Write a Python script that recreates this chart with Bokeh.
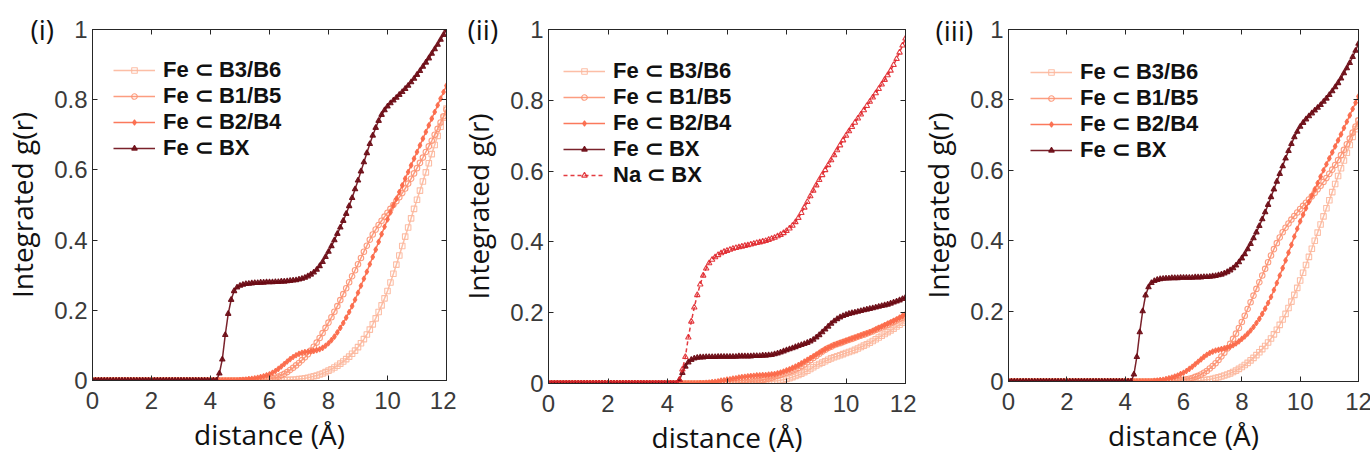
from bokeh.plotting import figure
from bokeh.layouts import row
from bokeh.models import (Range1d, FixedTicker, LinearAxis, CustomJSTickFormatter,
                          Legend, LegendItem, Title)
from bokeh.embed import file_html
from bokeh.resources import INLINE

# ---------------- data (integrated g(r), sampled every 0.1 Å from 0 to 12 Å) ----------------
distance = [round(0.1 * i, 1) for i in range(121)]
x_ticks = [0, 2, 4, 6, 8, 10, 12]
y_ticks = [0, 0.2, 0.4, 0.6, 0.8, 1]
panel_tags = ["(i)", "(ii)", "(iii)"]
series_names = ["Fe \u2282 B3/B6", "Fe \u2282 B1/B5", "Fe \u2282 B2/B4", "Fe \u2282 BX", "Na \u2282 BX"]

Z = [0] * 10

# panel (i)
b36_i = (Z * 6
         + [0, 0, 0, 0, 0, 0.001, 0.001, 0.002, 0.002, 0.003]
         + [0.004, 0.005, 0.006, 0.008, 0.01, 0.012, 0.014, 0.017, 0.02, 0.024]
         + [0.028, 0.032, 0.037, 0.042, 0.048, 0.054, 0.061, 0.068, 0.076, 0.085]
         + [0.095, 0.106, 0.118, 0.131, 0.145, 0.16, 0.177, 0.195, 0.214, 0.234]
         + [0.255, 0.279, 0.304, 0.33, 0.356, 0.383, 0.41, 0.436, 0.462, 0.489]
         + [0.515, 0.541, 0.567, 0.593, 0.619, 0.645, 0.671, 0.697, 0.723, 0.749]
         + [0.775])
b15_i = (Z * 5
         + [0, 0, 0, 0, 0, 0.001, 0.001, 0.002, 0.002, 0.003]
         + [0.004, 0.006, 0.008, 0.011, 0.015, 0.019, 0.024, 0.03, 0.036, 0.043]
         + [0.05, 0.058, 0.066, 0.075, 0.085, 0.096, 0.108, 0.121, 0.135, 0.15]
         + [0.165, 0.18, 0.196, 0.212, 0.229, 0.246, 0.263, 0.28, 0.297, 0.314]
         + [0.331, 0.349, 0.367, 0.384, 0.401, 0.416, 0.43, 0.443, 0.455, 0.467]
         + [0.478, 0.489, 0.5, 0.511, 0.522, 0.534, 0.547, 0.561, 0.575, 0.59]
         + [0.605, 0.62, 0.635, 0.651, 0.667, 0.683, 0.7, 0.717, 0.735, 0.753]
         + [0.772])
b24_i = (Z * 5
         + [0.001, 0.002, 0.003, 0.004, 0.005, 0.006, 0.008, 0.01, 0.012, 0.015]
         + [0.018, 0.022, 0.027, 0.033, 0.04, 0.047, 0.054, 0.061, 0.067, 0.072]
         + [0.076, 0.079, 0.081, 0.082, 0.083, 0.084, 0.086, 0.089, 0.093, 0.099]
         + [0.106, 0.115, 0.125, 0.137, 0.15, 0.164, 0.179, 0.195, 0.212, 0.23]
         + [0.25, 0.27, 0.29, 0.31, 0.331, 0.352, 0.373, 0.395, 0.417, 0.438]
         + [0.459, 0.479, 0.499, 0.518, 0.537, 0.556, 0.575, 0.594, 0.613, 0.632]
         + [0.651, 0.67, 0.689, 0.708, 0.727, 0.746, 0.765, 0.784, 0.803, 0.822]
         + [0.84])
bx_i = (Z * 4
        + [0, 0, 0, 0.02, 0.06, 0.13, 0.19, 0.23, 0.255, 0.265]
        + [0.27, 0.273, 0.275, 0.276, 0.277, 0.278, 0.278, 0.279, 0.279, 0.28]
        + [0.28, 0.28, 0.281, 0.281, 0.282, 0.282, 0.283, 0.284, 0.285, 0.286]
        + [0.288, 0.29, 0.293, 0.297, 0.302, 0.308, 0.316, 0.326, 0.338, 0.352]
        + [0.367, 0.383, 0.4, 0.418, 0.436, 0.455, 0.475, 0.497, 0.52, 0.545]
        + [0.57, 0.596, 0.622, 0.648, 0.674, 0.698, 0.72, 0.74, 0.757, 0.77]
        + [0.781, 0.79, 0.798, 0.806, 0.814, 0.822, 0.831, 0.84, 0.85, 0.86]
        + [0.871, 0.882, 0.894, 0.906, 0.918, 0.931, 0.944, 0.957, 0.971, 0.985]
        + [1.0])

# panel (ii)
b36_ii = (Z * 6
          + [0, 0, 0, 0, 0, 0, 0.001, 0.001, 0.001, 0.002]
          + [0.002, 0.003, 0.003, 0.004, 0.005, 0.006, 0.007, 0.008, 0.009, 0.011]
          + [0.013, 0.015, 0.018, 0.021, 0.024, 0.028, 0.032, 0.036, 0.041, 0.046]
          + [0.051, 0.055, 0.059, 0.063, 0.067, 0.071, 0.074, 0.077, 0.08, 0.083]
          + [0.086, 0.089, 0.092, 0.095, 0.099, 0.103, 0.107, 0.111, 0.115, 0.12]
          + [0.125, 0.13, 0.135, 0.14, 0.145, 0.15, 0.155, 0.161, 0.166, 0.172]
          + [0.178])
b15_ii = (Z * 6
          + [0, 0, 0.001, 0.001, 0.002, 0.002, 0.003, 0.004, 0.005, 0.006]
          + [0.007, 0.008, 0.01, 0.012, 0.014, 0.016, 0.019, 0.022, 0.025, 0.028]
          + [0.031, 0.034, 0.037, 0.04, 0.044, 0.049, 0.054, 0.06, 0.066, 0.072]
          + [0.078, 0.084, 0.09, 0.095, 0.1, 0.104, 0.108, 0.111, 0.114, 0.117]
          + [0.12, 0.123, 0.126, 0.129, 0.132, 0.135, 0.138, 0.141, 0.144, 0.147]
          + [0.151, 0.155, 0.158, 0.162, 0.166, 0.17, 0.174, 0.178, 0.182, 0.186]
          + [0.19])
b24_ii = (Z * 5
          + [0, 0.001, 0.001, 0.002, 0.003, 0.004, 0.005, 0.006, 0.008, 0.009]
          + [0.011, 0.012, 0.014, 0.015, 0.017, 0.018, 0.019, 0.02, 0.021, 0.022]
          + [0.023, 0.023, 0.024, 0.024, 0.025, 0.026, 0.027, 0.029, 0.031, 0.034]
          + [0.037, 0.04, 0.044, 0.048, 0.052, 0.057, 0.062, 0.067, 0.072, 0.077]
          + [0.082, 0.087, 0.092, 0.097, 0.101, 0.105, 0.109, 0.112, 0.115, 0.118]
          + [0.121, 0.124, 0.127, 0.13, 0.133, 0.136, 0.139, 0.142, 0.145, 0.149]
          + [0.153, 0.157, 0.161, 0.165, 0.169, 0.173, 0.177, 0.181, 0.186, 0.191]
          + [0.196])
bx_ii = (Z * 4
         + [0, 0, 0, 0, 0.01, 0.03, 0.048, 0.06, 0.067, 0.071]
         + [0.073, 0.074, 0.074, 0.075, 0.075, 0.075, 0.075, 0.076, 0.076, 0.076]
         + [0.076, 0.076, 0.076, 0.076, 0.077, 0.077, 0.077, 0.077, 0.077, 0.078]
         + [0.078, 0.078, 0.079, 0.079, 0.08, 0.081, 0.083, 0.085, 0.088, 0.091]
         + [0.094, 0.097, 0.1, 0.103, 0.106, 0.109, 0.112, 0.115, 0.119, 0.124]
         + [0.13, 0.137, 0.145, 0.153, 0.161, 0.169, 0.176, 0.182, 0.187, 0.191]
         + [0.194, 0.197, 0.199, 0.201, 0.203, 0.205, 0.207, 0.209, 0.211, 0.213]
         + [0.215, 0.217, 0.219, 0.221, 0.223, 0.226, 0.229, 0.232, 0.235, 0.239]
         + [0.243])
na_ii = (Z * 4
         + [0, 0, 0, 0, 0.01, 0.04, 0.075, 0.13, 0.175, 0.215]
         + [0.25, 0.28, 0.305, 0.325, 0.34, 0.35, 0.357, 0.363, 0.368, 0.372]
         + [0.375, 0.378, 0.381, 0.383, 0.385, 0.387, 0.389, 0.391, 0.393, 0.395]
         + [0.397, 0.399, 0.401, 0.403, 0.406, 0.409, 0.412, 0.416, 0.42, 0.425]
         + [0.431, 0.438, 0.446, 0.456, 0.468, 0.482, 0.497, 0.513, 0.529, 0.545]
         + [0.56, 0.575, 0.589, 0.603, 0.617, 0.631, 0.645, 0.659, 0.673, 0.687]
         + [0.7, 0.713, 0.725, 0.737, 0.749, 0.76, 0.772, 0.784, 0.796, 0.808]
         + [0.82, 0.832, 0.845, 0.858, 0.871, 0.884, 0.9, 0.917, 0.935, 0.955]
         + [0.975])

# panel (iii)
b36_iii = (Z * 6
           + [0, 0, 0.001, 0.001, 0.002, 0.002, 0.003, 0.004, 0.005, 0.006]
           + [0.008, 0.01, 0.012, 0.014, 0.017, 0.02, 0.023, 0.027, 0.031, 0.036]
           + [0.041, 0.047, 0.053, 0.06, 0.067, 0.075, 0.083, 0.092, 0.101, 0.111]
           + [0.122, 0.134, 0.147, 0.161, 0.176, 0.192, 0.209, 0.227, 0.246, 0.266]
           + [0.287, 0.309, 0.331, 0.354, 0.377, 0.4, 0.423, 0.446, 0.469, 0.492]
           + [0.515, 0.538, 0.561, 0.584, 0.606, 0.628, 0.65, 0.672, 0.695, 0.717]
           + [0.74])
b15_iii = (Z * 5
           + [0, 0, 0, 0, 0, 0.001, 0.001, 0.002, 0.003, 0.004]
           + [0.005, 0.006, 0.008, 0.01, 0.013, 0.016, 0.02, 0.025, 0.03, 0.037]
           + [0.044, 0.052, 0.061, 0.071, 0.082, 0.094, 0.107, 0.121, 0.136, 0.152]
           + [0.169, 0.187, 0.206, 0.225, 0.244, 0.263, 0.282, 0.301, 0.32, 0.339]
           + [0.358, 0.376, 0.393, 0.409, 0.424, 0.437, 0.449, 0.46, 0.47, 0.48]
           + [0.49, 0.499, 0.508, 0.517, 0.526, 0.536, 0.546, 0.556, 0.567, 0.578]
           + [0.59, 0.602, 0.615, 0.629, 0.643, 0.658, 0.674, 0.69, 0.707, 0.724]
           + [0.742])
b24_iii = (Z * 5
           + [0.002, 0.003, 0.004, 0.005, 0.007, 0.009, 0.011, 0.014, 0.017, 0.021]
           + [0.025, 0.03, 0.036, 0.042, 0.049, 0.056, 0.063, 0.07, 0.076, 0.081]
           + [0.085, 0.088, 0.09, 0.092, 0.094, 0.096, 0.099, 0.103, 0.108, 0.114]
           + [0.121, 0.128, 0.136, 0.145, 0.155, 0.166, 0.178, 0.192, 0.207, 0.223]
           + [0.24, 0.26, 0.28, 0.301, 0.322, 0.344, 0.366, 0.388, 0.412, 0.434]
           + [0.455, 0.474, 0.492, 0.51, 0.528, 0.546, 0.564, 0.582, 0.6, 0.617]
           + [0.634, 0.651, 0.668, 0.685, 0.702, 0.72, 0.738, 0.756, 0.774, 0.792]
           + [0.81])
bx_iii = (Z * 4
          + [0, 0, 0, 0.02, 0.07, 0.14, 0.2, 0.245, 0.268, 0.28]
          + [0.286, 0.289, 0.291, 0.292, 0.293, 0.293, 0.294, 0.294, 0.294, 0.295]
          + [0.295, 0.295, 0.295, 0.295, 0.296, 0.296, 0.296, 0.297, 0.297, 0.298]
          + [0.299, 0.3, 0.302, 0.304, 0.307, 0.311, 0.316, 0.322, 0.33, 0.339]
          + [0.35, 0.362, 0.376, 0.391, 0.407, 0.424, 0.442, 0.461, 0.481, 0.502]
          + [0.524, 0.546, 0.568, 0.59, 0.612, 0.634, 0.655, 0.675, 0.694, 0.71]
          + [0.724, 0.735, 0.745, 0.754, 0.762, 0.77, 0.778, 0.786, 0.795, 0.804]
          + [0.814, 0.825, 0.836, 0.848, 0.861, 0.876, 0.89, 0.905, 0.922, 0.94]
          + [0.96])

# ---------------- styles ----------------
STYLE = {
    "Fe \u2282 B3/B6": dict(color="#fcb79c", marker="square", filled=False, dash="solid"),
    "Fe \u2282 B1/B5": dict(color="#fc9272", marker="circle", filled=False, dash="solid"),
    "Fe \u2282 B2/B4": dict(color="#fb6a4a", marker="diamond", filled=True, dash="solid"),
    "Fe \u2282 BX": dict(color="#6b0a14", marker="triangle", filled=True, dash="solid"),
    "Na \u2282 BX": dict(color="#e0262b", marker="triangle", filled=False, dash="4 3"),
}

AX = "#262626"
TICK_FONT = "Liberation Sans"
LABEL_FONT = "Open Sans"
LEG_FONT = "Liberation Sans"


def make_panel(tag, series, fw, fh, bl, br, bt, bb, leg_xy, tag_offset, tag_standoff):
    p = figure(frame_width=fw, frame_height=fh, output_backend="svg", toolbar_location=None,
               x_range=Range1d(0, 12), y_range=Range1d(0, 1),
               min_border_left=bl, min_border_right=br, min_border_top=bt, min_border_bottom=bb)
    p.xgrid.visible = False
    p.ygrid.visible = False
    p.outline_line_color = AX
    p.outline_line_width = 1
    p.background_fill_color = "white"
    p.border_fill_color = "white"

    yfmt = CustomJSTickFormatter(code="return String(tick);")
    for ax, ticks in ((p.xaxis[0], x_ticks), (p.yaxis[0], y_ticks)):
        ax.ticker = FixedTicker(ticks=ticks)
        ax.major_tick_in = 5
        ax.major_tick_out = 0
        ax.minor_tick_line_color = None
        ax.major_tick_line_color = AX
        ax.axis_line_color = AX
        ax.major_label_text_font = TICK_FONT
        ax.major_label_text_font_size = "24px"
        ax.major_label_text_color = "#3a3a3a"
        ax.axis_label_text_font = LABEL_FONT
        ax.axis_label_text_font_size = "28px"
        ax.axis_label_text_font_style = "normal"
        ax.axis_label_text_color = "#111111"
    p.yaxis[0].formatter = yfmt
    p.xaxis[0].axis_label = "distance (\u00c5)"
    p.yaxis[0].axis_label = "Integrated g(r)"
    p.xaxis[0].major_label_standoff = 11
    p.xaxis[0].axis_label_standoff = 3
    p.yaxis[0].major_label_standoff = 5
    p.yaxis[0].axis_label_standoff = 10

    for side, ticks in (("above", x_ticks), ("right", y_ticks)):
        ax = LinearAxis(ticker=FixedTicker(ticks=ticks), major_label_text_font_size="0px",
                        major_label_text_color=None,
                        major_tick_in=5, major_tick_out=0, minor_tick_line_color=None,
                        major_tick_line_color=AX, axis_line_color=AX, major_label_standoff=0)
        p.add_layout(ax, side)

    items = []
    for name, vals in series:
        st = STYLE[name]
        ln = p.line(distance, vals, line_color=st["color"], line_width=1.5,
                    line_dash=st["dash"], line_alpha=0.9)
        sc = p.scatter(distance, vals, marker=st["marker"], size=5.5,
                       line_color=st["color"], line_width=1.1, line_alpha=0.9,
                       fill_color=st["color"] if st["filled"] else None,
                       fill_alpha=0.85)
        items.append(LegendItem(label=name, renderers=[ln, sc]))

    leg = Legend(items=items, location=leg_xy, padding=0, margin=0, spacing=0,
                 glyph_width=42, glyph_height=14, label_height=26, label_standoff=8,
                 label_text_font=LEG_FONT, label_text_font_style="bold",
                 label_text_font_size="22px", label_text_color="#111111",
                 border_line_color=None, background_fill_alpha=0)
    p.add_layout(leg, "center")

    t = Title(text=tag, align="left", offset=tag_offset, text_font=LABEL_FONT,
              text_font_size="28px", text_font_style="normal", text_color="#111111",
              vertical_align="bottom")
    try:
        t.standoff = tag_standoff
    except Exception:
        t.standoff = 0
    p.add_layout(t, "above")
    return p


p1 = make_panel(panel_tags[0],
                [(series_names[0], b36_i), (series_names[1], b15_i),
                 (series_names[2], b24_i), (series_names[3], bx_i)],
                354, 351, 86, 10, 25, 60, (21, 219), -62, -36)
p2 = make_panel(panel_tags[1],
                [(series_names[0], b36_ii), (series_names[1], b15_ii),
                 (series_names[2], b24_ii), (series_names[3], bx_ii),
                 (series_names[4], na_ii)],
                357, 354, 86, 11, 27, 60, (15, 195), -81, -36)
p3 = make_panel(panel_tags[2],
                [(series_names[0], b36_iii), (series_names[1], b15_iii),
                 (series_names[2], b24_iii), (series_names[3], bx_iii)],
                350, 352, 86, 14, 29, 60, (22, 218), -73, -38)

layout = row(p1, p2, p3, spacing=0)
open("out.html", "w").write(file_html(layout, INLINE))
